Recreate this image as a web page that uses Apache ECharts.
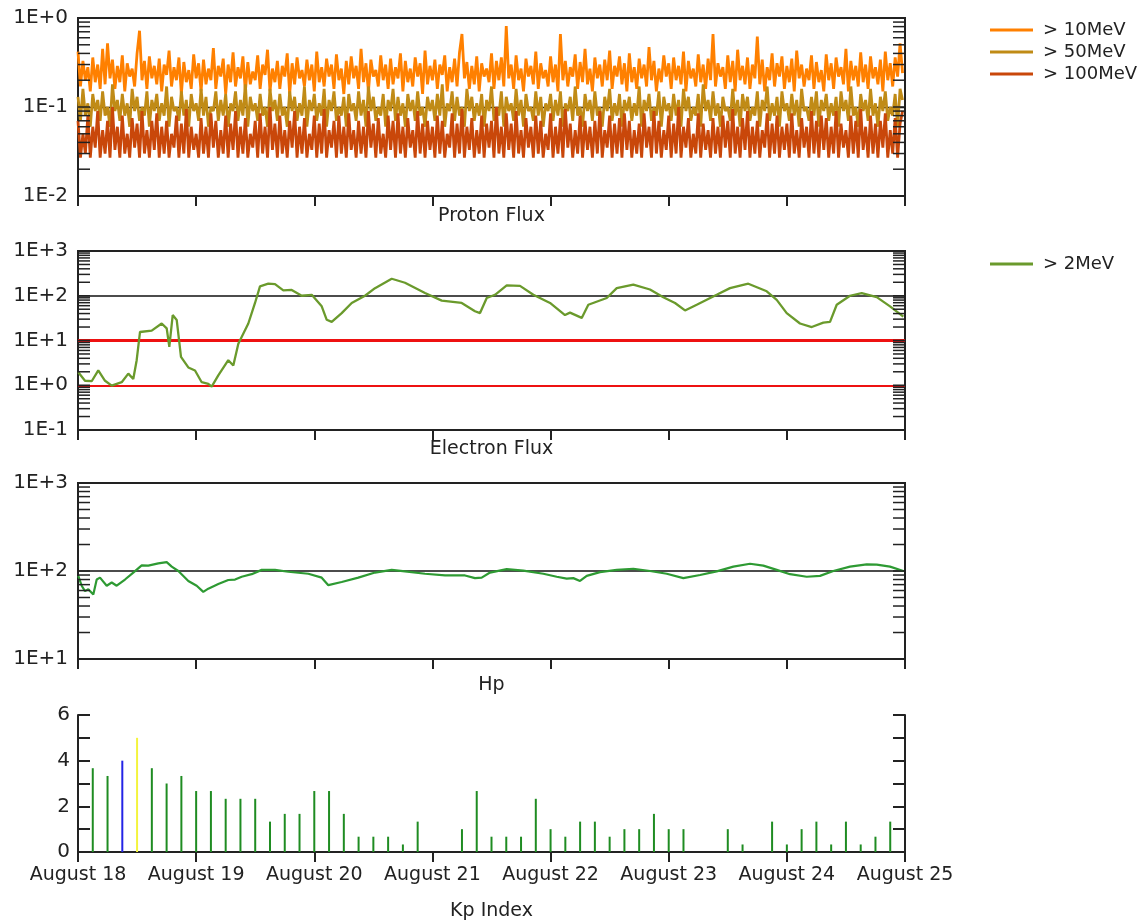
<!DOCTYPE html>
<html><head><meta charset="utf-8">
<script src="https://cdn.jsdelivr.net/npm/echarts@6/dist/echarts.min.js"></script>
<style>html,body{margin:0;padding:0;background:#fff}#c{width:1145px;height:922px}</style>
</head><body><div id="c"></div><script>
const FONT = 'DejaVu Sans';
const dayLabels = ['August 18','August 19','August 20','August 21','August 22','August 23','August 24','August 25'];
const panelTitles = ['Proton Flux','Electron Flux','Hp','Kp Index'];

// Proton flux (pfu), sampled every protonStepHours from Aug 18 00:00 (rows of 8 hours)
const protonStepHours = 0.5;
const p10 = [
.42,.17,.33,.2,.28,.15,.36,.19,.3,.16,.45,.18,.52,.21,.34,.16,
.29,.19,.38,.15,.31,.22,.27,.17,.4,.72,.2,.33,.16,.37,.21,.29,
.18,.35,.15,.3,.23,.43,.17,.28,.2,.36,.14,.32,.19,.26,.16,.39,
.21,.31,.15,.34,.18,.27,.2,.46,.16,.29,.22,.35,.14,.3,.19,.41,
.17,.28,.21,.37,.15,.32,.18,.25,.2,.38,.16,.3,.23,.44,.15,.27,
.19,.33,.16,.29,.22,.4,.14,.31,.18,.36,.21,.26,.17,.34,.2,.3,
.15,.42,.19,.28,.17,.35,.22,.3,.16,.39,.2,.27,.14,.33,.18,.37,
.21,.29,.16,.45,.19,.31,.15,.34,.22,.26,.17,.38,.2,.3,.16,.35,
.18,.28,.21,.4,.15,.33,.19,.27,.17,.36,.22,.31,.14,.43,.18,.29,
.2,.34,.16,.3,.23,.38,.15,.28,.19,.35,.17,.41,.66,.21,.32,.16,
.29,.18,.37,.15,.31,.22,.27,.19,.4,.16,.33,.2,.36,.17,.81,.21,
.3,.16,.38,.2,.27,.15,.35,.22,.29,.18,.42,.16,.31,.21,.26,.17,
.37,.19,.3,.15,.66,.2,.33,.17,.28,.22,.39,.16,.32,.19,.45,.18,
.27,.15,.36,.21,.3,.17,.34,.2,.43,.16,.29,.22,.37,.18,.31,.15,
.4,.19,.28,.16,.35,.21,.3,.17,.47,.2,.33,.15,.27,.19,.38,.22,
.31,.16,.36,.2,.29,.18,.42,.15,.33,.21,.27,.17,.39,.19,.3,.16,
.35,.2,.66,.17,.31,.22,.28,.16,.38,.19,.33,.15,.44,.2,.29,.18,
.36,.16,.3,.21,.62,.18,.34,.15,.28,.2,.4,.17,.31,.22,.37,.16,
.29,.19,.35,.15,.43,.21,.3,.17,.27,.2,.38,.16,.32,.19,.26,.15,
.39,.2,.31,.16,.36,.22,.28,.18,.45,.15,.33,.2,.29,.17,.41,.19,
.3,.16,.37,.21,.28,.18,.34,.15,.42,.2,.31,.17,.36,.22,.52,.24];
const p50 = [
.13,.07,.16,.08,.11,.06,.14,.09,.12,.07,.15,.08,.1,.06,.18,.09,
.12,.07,.14,.08,.11,.06,.16,.09,.13,.07,.1,.08,.15,.06,.12,.09,
.14,.07,.11,.08,.17,.06,.13,.09,.1,.07,.15,.08,.12,.06,.14,.09,
.11,.07,.16,.08,.13,.06,.1,.09,.15,.07,.12,.08,.14,.06,.11,.09,
.15,.07,.12,.08,.18,.06,.13,.09,.11,.07,.14,.08,.1,.06,.16,.09,
.12,.07,.14,.08,.1,.06,.15,.09,.13,.07,.11,.08,.17,.06,.12,.09,
.14,.07,.11,.08,.16,.06,.12,.09,.15,.07,.1,.08,.13,.06,.14,.09,
.11,.07,.15,.08,.12,.06,.17,.09,.13,.07,.1,.08,.14,.06,.12,.09,
.16,.07,.13,.08,.11,.06,.14,.09,.12,.07,.15,.08,.1,.06,.13,.09,
.12,.07,.14,.08,.18,.06,.11,.09,.15,.07,.13,.08,.1,.06,.16,.09,
.13,.07,.11,.08,.14,.06,.12,.09,.17,.07,.1,.08,.15,.06,.13,.09,
.11,.07,.16,.08,.12,.06,.14,.09,.1,.07,.15,.08,.13,.06,.11,.09,
.14,.07,.12,.08,.15,.06,.11,.09,.13,.07,.17,.08,.1,.06,.14,.09,
.12,.07,.15,.08,.1,.06,.13,.09,.16,.07,.11,.08,.14,.06,.12,.09,
.13,.07,.11,.08,.17,.06,.12,.09,.14,.07,.1,.08,.15,.06,.13,.09,
.11,.07,.14,.08,.12,.06,.16,.09,.13,.07,.1,.08,.14,.06,.18,.09,
.12,.07,.15,.08,.11,.06,.13,.09,.1,.07,.16,.08,.12,.06,.14,.09,
.13,.07,.1,.08,.15,.06,.12,.09,.17,.07,.11,.08,.13,.06,.15,.09,
.11,.07,.14,.08,.12,.06,.16,.09,.1,.07,.13,.08,.15,.06,.12,.09,
.14,.07,.11,.08,.13,.06,.15,.09,.12,.07,.17,.08,.1,.06,.14,.09,
.12,.07,.16,.08,.11,.06,.13,.09,.15,.07,.1,.08,.14,.06,.16,.12];
const p100 = [
.07,.027,.05,.03,.08,.027,.06,.035,.09,.027,.055,.03,.07,.027,.1,.033,
.06,.027,.08,.03,.05,.027,.075,.035,.065,.027,.09,.03,.055,.027,.07,.033,
.085,.027,.06,.03,.07,.027,.05,.035,.08,.027,.065,.03,.095,.027,.06,.033,
.05,.027,.075,.03,.06,.027,.085,.035,.07,.027,.055,.03,.08,.027,.065,.033,
.09,.027,.06,.03,.075,.027,.05,.035,.07,.027,.085,.03,.06,.027,.1,.033,
.065,.027,.08,.03,.055,.027,.07,.035,.09,.027,.06,.03,.075,.027,.05,.033,
.08,.027,.065,.03,.095,.027,.055,.035,.07,.027,.08,.03,.06,.027,.085,.033,
.055,.027,.07,.03,.06,.027,.09,.035,.065,.027,.075,.03,.05,.027,.08,.033,
.07,.027,.085,.03,.06,.027,.075,.035,.055,.027,.09,.03,.065,.027,.07,.033,
.06,.027,.08,.03,.07,.027,.05,.035,.085,.027,.065,.03,.095,.027,.06,.033,
.075,.027,.055,.03,.08,.027,.065,.035,.07,.027,.1,.03,.06,.027,.085,.033,
.065,.027,.09,.03,.055,.027,.075,.035,.06,.027,.08,.03,.07,.027,.05,.033,
.085,.027,.06,.03,.075,.027,.095,.035,.065,.027,.055,.03,.08,.027,.07,.033,
.06,.027,.07,.03,.09,.027,.055,.035,.08,.027,.065,.03,.075,.027,.085,.033,
.07,.027,.055,.03,.065,.027,.085,.035,.06,.027,.09,.03,.07,.027,.055,.033,
.08,.027,.065,.03,.1,.027,.06,.035,.075,.027,.05,.03,.085,.027,.065,.033,
.055,.027,.075,.03,.06,.027,.08,.035,.07,.027,.095,.03,.06,.027,.075,.033,
.09,.027,.06,.03,.07,.027,.055,.035,.085,.027,.065,.03,.08,.027,.06,.033,
.065,.027,.085,.03,.055,.027,.075,.035,.06,.027,.09,.03,.07,.027,.08,.033,
.075,.027,.06,.03,.09,.027,.065,.035,.055,.027,.08,.03,.07,.027,.095,.033,
.06,.027,.08,.03,.065,.027,.07,.035,.085,.027,.055,.03,.075,.027,.065,.09];

// Electron flux > 2MeV (hours since Aug 18 00:00, value)
const elecHours = [0.06,1.42,2.78,4.12,5.49,6.85,8.88,10.22,11.23,11.92,12.6,14.97,17.0,18.02,18.55,19.24,20.05,20.92,22.41,23.77,25.13,26.47,27.16,28.5,30.53,31.55,32.57,34.6,35.96,36.97,38.66,40.02,41.71,43.41,45.45,47.48,49.51,50.53,51.54,53.57,55.6,58.3,60.34,63.73,66.43,70.49,73.89,77.95,80.65,81.67,83.03,84.71,87.09,89.79,92.5,95.89,98.93,99.95,102.33,103.67,107.41,109.44,112.81,116.2,118.9,121.28,123.31,125.69,129.75,132.45,136.17,139.91,141.94,143.97,146.67,149.05,151.41,152.77,154.13,156.83,159.21,162.26,164.96,167.66];
const elecValues = [1.95,1.26,1.23,2.14,1.26,0.98,1.17,1.82,1.38,3.63,15.5,16.6,24,18.6,7.2,37,28.8,4.3,2.5,2.14,1.17,1.07,0.93,1.66,3.63,2.75,8.5,24,69,162,186,182,132,135,100,105,58,29,26,41,69,100,148,240,195,115,78,69,45,41,89,105,170,166,105,69,37,42,32,63,89,148,178,138,93,69,47,63,105,148,186,126,81,41,24,20,25,26,63,100,115,93,58,34];

// Hp (hours, nT)
const hpHours = [0.06,0.75,1.42,2.09,3.11,3.8,4.47,5.83,6.85,7.86,9.55,11.23,12.94,14.28,16.31,18.02,19.04,20.38,22.41,24.11,25.45,26.47,28.5,30.53,31.9,33.26,35.29,37.32,40.02,42.72,46.79,49.51,50.85,53.57,56.94,60.34,63.73,66.43,70.49,74.56,78.62,80.65,82.01,83.7,87.09,90.46,94.53,97.25,99.28,100.62,101.98,103.34,106.04,109.44,112.81,116.2,119.6,122.97,126.36,129.75,133.13,136.52,139.22,141.94,144.64,148.03,150.74,153.44,156.83,160.22,162.26,164.96,167.66];
const hpValues = [88,68,59,62,54,80,84,68,74,68,80,96,116,115,122,126,112,100,77,68,58,63,71,79,80,86,92,103,103,98,93,84,69,75,84,96,103,99,93,89,89,83,84,96,105,101,93,86,82,83,77,88,97,103,106,100,93,83,90,99,112,121,115,103,92,86,88,100,112,119,118,112,100];

// Kp index, one value per 3-hour interval (plotted at interval end)
const kpStepHours = 3;
const kpValues = [
3.67,3.33,4,5,3.67,3,3.33,2.67,
2.67,2.33,2.33,2.33,1.33,1.67,1.67,2.67,
2.67,1.67,0.67,0.67,0.67,0.33,1.33,0,
0,1,2.67,0.67,0.67,0.67,2.33,1,
0.67,1.33,1.33,0.67,1,1,1.67,1,
1,0,0,1,0.33,0,1.33,0.33,
1,1.33,0.33,1.33,0.33,0.67,1.33,0];

const logRanges = [[0.01,1],[0.1,1000],[10,1000]];

const chart = echarts.init(document.getElementById('c'));
const AX = '#222';
const gridDefs = [
  {left:78, top:18, width:827, height:178, show:true, borderColor:AX, borderWidth:2},
  {left:78, top:251, width:827, height:179, show:true, borderColor:AX, borderWidth:2},
  {left:78, top:483, width:827, height:176, show:true, borderColor:AX, borderWidth:2},
  {left:78, top:715, width:827, height:138}
];
const nameGaps = [11, 10, 17, 50];
const xAxes = gridDefs.map((g,i)=>({
  type:'value', gridIndex:i, min:0, max:168, interval:24,
  name: panelTitles[i], nameLocation:'middle', nameGap:nameGaps[i],
  nameTextStyle:{fontFamily:FONT, fontSize:19, color:AX},
  axisLine:{show:true, onZero:false, lineStyle:{color:AX, width:2}},
  axisTick:{show:true, inside:false, length:10, lineStyle:{color:AX, width:2}},
  axisLabel:{show:i===3, margin:14, fontFamily:FONT, fontSize:19, color:AX,
    formatter:v=>dayLabels[Math.round(v/24)]},
  splitLine:{show:false}
}));
const fmtExp = v => { const e = Math.round(Math.log10(v)); return '1E' + (e>=0?'+':'-') + Math.abs(e); };
const yAxes = logRanges.map((r,i)=>({
  type:'log', logBase:10, gridIndex:i, min:r[0], max:r[1],
  axisLine:{show:true, lineStyle:{color:AX, width:2}},
  axisTick:{show:false}, splitLine:{show:false},
  axisLabel:{formatter:fmtExp, margin:10, fontFamily:FONT, fontSize:20, color:AX}
}));
yAxes.push({type:'value', gridIndex:3, min:0, max:6, interval:1,
  axisLine:{show:true, lineStyle:{color:AX, width:2}},
  axisTick:{show:true, inside:true, length:12, lineStyle:{color:AX, width:2}},
  splitLine:{show:false},
  axisLabel:{formatter:v=>(v%2===0?String(v):''), margin:8, fontFamily:FONT, fontSize:20, color:AX}});
yAxes.push({type:'value', gridIndex:3, min:0, max:6, interval:1, position:'right',
  axisLine:{show:true, lineStyle:{color:AX, width:2}},
  axisTick:{show:true, inside:true, length:12, lineStyle:{color:AX, width:2}},
  splitLine:{show:false}, axisLabel:{show:false}});

function logTickValues(min, max){
  const out=[];
  for(let e=Math.round(Math.log10(min)); e<Math.round(Math.log10(max)); e++){
    for(let m=1;m<10;m++) out.push([0, m*Math.pow(10,e)]);
  }
  out.push([0,max]);
  return out;
}
const tickSeries = logRanges.map((r,i)=>({
  type:'custom', xAxisIndex:i, yAxisIndex:i, silent:true, z:10, clip:false,
  data: logTickValues(r[0], r[1]),
  renderItem:(params, api)=>{
    const y = api.coord([0, api.value(1)])[1];
    const cs = params.coordSys; const L = 12;
    return {type:'group', children:[
      {type:'line', shape:{x1:cs.x, y1:y, x2:cs.x+L, y2:y}, style:{stroke:AX, lineWidth:1.5}},
      {type:'line', shape:{x1:cs.x+cs.width-L, y1:y, x2:cs.x+cs.width, y2:y}, style:{stroke:AX, lineWidth:1.5}}
    ]};
  }
}));
const pairs = (hs, vs) => hs.map((h,i)=>[h, vs[i]]);
const stepped = (vs, step) => vs.map((v,i)=>[i*step, v]);
const refLine = (v, color, width) => ({yAxis:v, lineStyle:{color:color, width:width, type:'solid'}});
const markLineBase = {silent:true, symbol:'none', label:{show:false}, z:1};

const protonLine = (name, data, color, extra) => Object.assign({
  name, type:'line', xAxisIndex:0, yAxisIndex:0, data, showSymbol:false, symbol:'none',
  lineStyle:{color, width:2.8, join:'bevel'}, itemStyle:{color}, z:2
}, extra||{});

const series = [
  ...tickSeries,
  protonLine('> 10MeV', stepped(p10, protonStepHours), '#ff8000',
    {markLine:Object.assign({}, markLineBase, {data:[refLine(0.1,'#111',1.3)]})}),
  protonLine('> 50MeV', stepped(p50, protonStepHours), '#c08b16'),
  protonLine('> 100MeV', stepped(p100, protonStepHours), '#c9470a'),
  {name:'> 2MeV', type:'line', xAxisIndex:1, yAxisIndex:1, data:pairs(elecHours, elecValues),
   showSymbol:false, symbol:'none', lineStyle:{color:'#6a9a2c', width:2.3}, itemStyle:{color:'#6a9a2c'}, z:3,
   markLine:Object.assign({}, markLineBase, {data:[refLine(100,'#111',1.5), refLine(10,'#ee1111',3), refLine(1,'#ee1111',1.8)]})},
  {name:'Hp', type:'line', xAxisIndex:2, yAxisIndex:2, data:pairs(hpHours, hpValues),
   showSymbol:false, symbol:'none', lineStyle:{color:'#2e9a33', width:2.2}, itemStyle:{color:'#2e9a33'}, z:3,
   markLine:Object.assign({}, markLineBase, {data:[refLine(100,'#111',1.5)]})},
  {name:'Kp', type:'bar', xAxisIndex:3, yAxisIndex:3, barWidth:2,
   data: kpValues.map((v,i)=>[(i+1)*kpStepHours, v]),
   itemStyle:{color:p=>{const v=p.value[1]; return v>=5?'#f4f43c':(v>=4?'#2424e6':'#1f8c22');}}}
];

const legendText = {fontFamily:FONT, fontSize:18, color:AX, lineHeight:22, padding:[0,0,0,5]};
const legendItems = names => names.map(n=>({name:n, textStyle:legendText}));
const legendCommon = {orient:'vertical', left:985, icon:'rect', itemWidth:43, itemHeight:3, itemGap:0,
  selectedMode:false, textStyle:legendText};

chart.setOption({
  animation:false,
  backgroundColor:'#fff',
  grid:gridDefs,
  xAxis:xAxes,
  yAxis:yAxes,
  legend:[
    Object.assign({}, legendCommon, {top:14, data:legendItems(['> 10MeV','> 50MeV','> 100MeV'])}),
    Object.assign({}, legendCommon, {top:248, data:legendItems(['> 2MeV'])})
  ],
  series
});
</script></body></html>
